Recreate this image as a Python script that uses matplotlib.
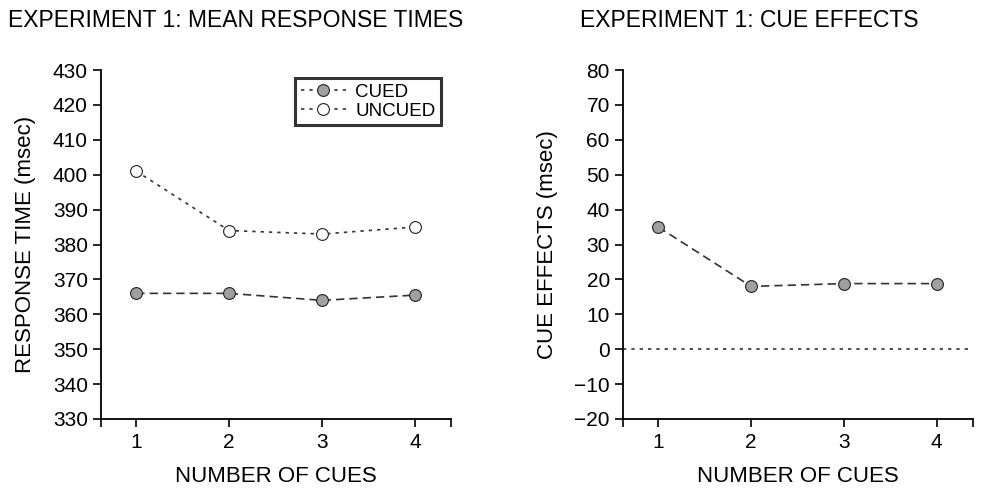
import numpy as np
import matplotlib
matplotlib.use("Agg")
import matplotlib.pyplot as plt
from matplotlib.lines import Line2D

plt.rcParams['font.family'] = ['Liberation Sans', 'DejaVu Sans']

# data
cues = [1, 2, 3, 4]
cued = [366.0, 366.0, 364.0, 365.5]
uncued = [401.0, 384.0, 383.0, 385.0]
cue_effects = [35.0, 18.0, 18.8, 18.8]

line_col = '#333333'
fill_col = '#a0a0a0'

fig = plt.figure(figsize=(9.97, 4.90), dpi=100)
ax1 = fig.add_axes([0.1013, 0.1449, 0.3511, 0.7122])
ax2 = fig.add_axes([0.6249, 0.1449, 0.3510, 0.7122])

# left panel: mean response times
ax1.plot(cues, cued, linestyle=(0, (5, 3)), color=line_col, lw=1.2,
         marker='o', ms=8.5, mfc=fill_col, mec='#222222', mew=0.8)
ax1.plot(cues, uncued, linestyle=(0, (2, 3)), color=line_col, lw=1.2,
         marker='o', ms=8.5, mfc='white', mec='#222222', mew=0.8)
ax1.set_ylim(330, 430)
ax1.set_yticks(np.arange(330, 431, 10))
ax1.set_ylabel('RESPONSE TIME (msec)', fontsize=16, labelpad=12)

# legend keys are drawn dotted in the original
handles = [
    Line2D([], [], linestyle=(0, (2, 3)), color=line_col, lw=1.2, marker='o',
           ms=8.5, mfc=fill_col, mec='#222222', mew=0.8),
    Line2D([], [], linestyle=(0, (2, 3)), color=line_col, lw=1.2, marker='o',
           ms=8.5, mfc='white', mec='#222222', mew=0.8),
]
leg = ax1.legend(handles, ['CUED', 'UNCUED'], loc='upper right',
                 bbox_to_anchor=(0.971, 0.977), borderaxespad=0, fontsize=13.5,
                 frameon=True, fancybox=False, handlelength=2.4,
                 borderpad=0.3, labelspacing=0.1, handletextpad=0.5)
leg.get_frame().set_edgecolor('black')
leg.get_frame().set_linewidth(2.2)

# right panel: cue effects
ax2.axhline(0, color=line_col, lw=1.2, linestyle=(0, (2, 3)))
ax2.plot(cues, cue_effects, linestyle=(0, (5, 3)), color=line_col, lw=1.2,
         marker='o', ms=8.5, mfc=fill_col, mec='#222222', mew=0.8)
ax2.set_ylim(-20, 80)
ax2.set_yticks(np.arange(-20, 81, 10))
ax2.set_ylabel('CUE EFFECTS (msec)', fontsize=16, labelpad=12)

for ax in (ax1, ax2):
    ax.set_xlim(0.62, 4.39)
    ax.set_xticks(cues)
    ax.set_xticks([0.62, 4.39], minor=True)
    ax.spines['top'].set_visible(False)
    ax.spines['right'].set_visible(False)
    ax.spines['left'].set_linewidth(1.3)
    ax.spines['bottom'].set_linewidth(1.3)
    ax.tick_params(which='both', direction='out', length=6, width=1.2, labelsize=15)
    ax.tick_params(axis='x', pad=4)
    ax.set_xlabel('NUMBER OF CUES', fontsize=16, labelpad=10)

fig.text(0.236, 0.958, 'EXPERIMENT 1: MEAN RESPONSE TIMES', fontsize=16.5,
         ha='center', va='center')
fig.text(0.752, 0.958, 'EXPERIMENT 1: CUE EFFECTS', fontsize=16.5,
         ha='center', va='center')

fig.savefig('out.png', dpi=100)
